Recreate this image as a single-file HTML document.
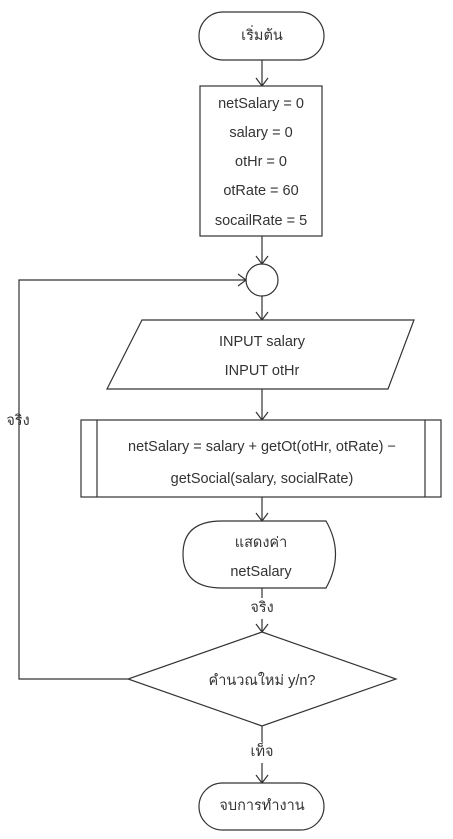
<!DOCTYPE html>
<html><head><meta charset="utf-8"><style>
body{margin:0;background:#fff}
svg{display:block}
text{font-family:"Liberation Sans","Noto Sans CJK SC",sans-serif;font-size:14.5px;fill:#333;text-anchor:middle;dominant-baseline:central}
.s{fill:#fff;stroke:#333;stroke-width:1.2}
.l{fill:none;stroke:#333;stroke-width:1.2}
</style></head><body>
<svg width="453" height="839" viewBox="0 0 453 839">
<rect class="s" x="199" y="12" width="125" height="48" rx="24"/>
<text x="262" y="36">เริ่มต้น</text>
<path class="l" d="M262 60V86M256 78L262 86L268 78"/>
<rect class="s" x="200" y="86" width="122" height="150"/>
<text x="261" y="104">netSalary = 0</text>
<text x="261" y="133">salary = 0</text>
<text x="261" y="162">otHr = 0</text>
<text x="261" y="191">otRate = 60</text>
<text x="261" y="221">socailRate = 5</text>
<path class="l" d="M262 236V264M256 256L262 264L268 256"/>
<circle class="s" cx="262" cy="280" r="16"/>
<path class="l" d="M262 296V320M256 312L262 320L268 312"/>
<polygon class="s" points="142,320 414,320 388,389 107,389"/>
<text x="262" y="342">INPUT salary</text>
<text x="262" y="371">INPUT otHr</text>
<path class="l" d="M262 389V420M256 412L262 420L268 412"/>
<rect class="s" x="81" y="420" width="360" height="77"/>
<path class="l" d="M97 420V497M425 420V497"/>
<text x="262" y="447">netSalary = salary + getOt(otHr, otRate) −</text>
<text x="262" y="479">getSocial(salary, socialRate)</text>
<path class="l" d="M262 497V521M256 513L262 521L268 513"/>
<path class="s" d="M222 521H326Q345 554 326 588H222Q183 588 183 554Q183 521 222 521Z"/>
<text x="261" y="543">แสดงค่า</text>
<text x="261" y="572">netSalary</text>
<path class="l" d="M262 588V598M262 619V632M256 624L262 632L268 624"/>
<text x="262" y="608">จริง</text>
<polygon class="s" points="262,632 396,679 262,726 128,679"/>
<text x="262" y="681">คำนวณใหม่ y/n?</text>
<path class="l" d="M128 679H19V411M19 432V280H246M238 274L246 280L238 286"/>
<text x="18" y="421">จริง</text>
<path class="l" d="M262 726V742M262 763V783M256 775L262 783L268 775"/>
<text x="262" y="752">เท็จ</text>
<rect class="s" x="199" y="783" width="125" height="47" rx="23.5"/>
<text x="262" y="806">จบการทำงาน</text>
</svg>
</body></html>
